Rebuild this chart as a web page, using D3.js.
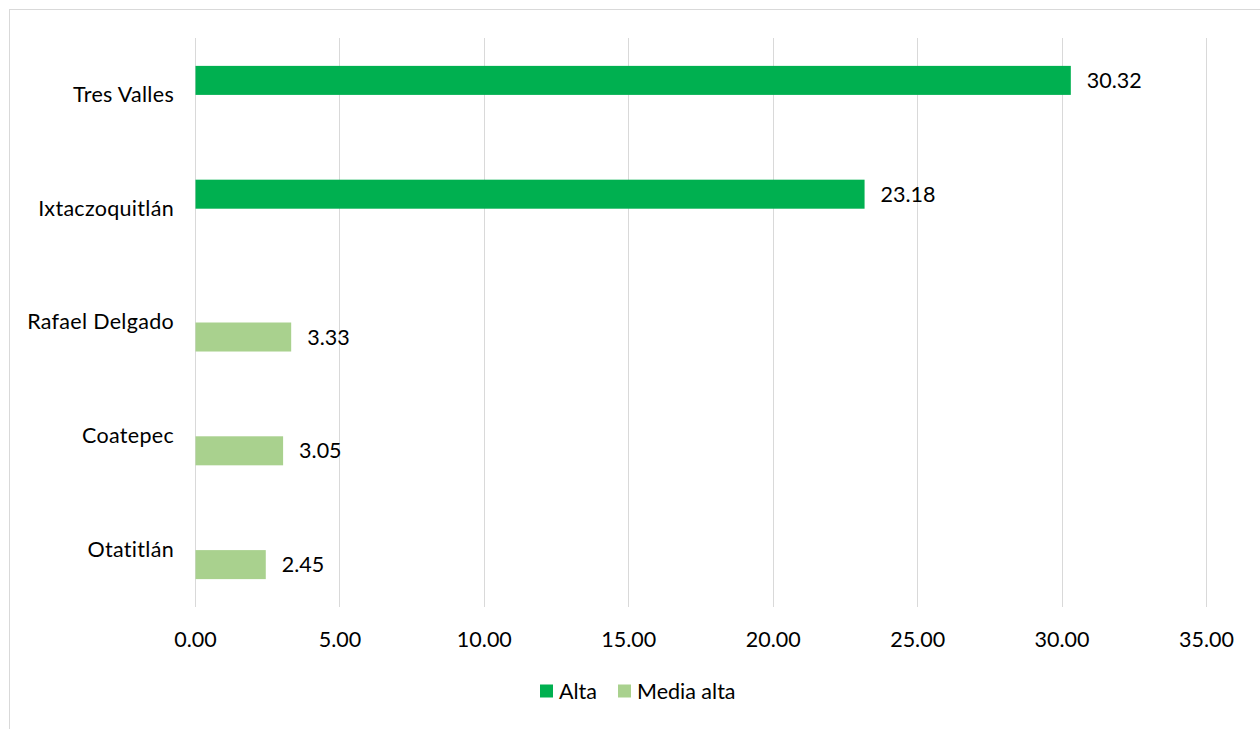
<!DOCTYPE html>
<html><head><meta charset="utf-8">
<script src="https://cdn.jsdelivr.net/npm/d3@7"></script>
<style>body{margin:0;background:#fff;} svg{display:block;} text{font-family:"Lato","Open Sans",sans-serif;fill:#000;}</style>
</head><body>
<svg id="c" width="1260" height="729"></svg>
<script>
const categories = ["Tres Valles","Ixtaczoquitlán","Rafael Delgado","Coatepec","Otatitlán"];
const seriesNames = ["Alta","Media alta"];
const alta = [30.32, 23.18, null, null, null];
const mediaAlta = [null, null, 3.33, 3.05, 2.45];
const xTicks = [0,5,10,15,20,25,30,35];
const colors = ["#00b050","#a9d18e"];
const FS = 21.5;

const svg = d3.select("#c");
svg.append("rect").attr("x",9.5).attr("y",9.5).attr("width",1300).attr("height",800)
  .attr("fill","#fff").attr("stroke","#d9d9d9").attr("stroke-width",1);

const x = d3.scaleLinear().domain([0,35]).range([195,1206]);
const y = d3.scaleBand().domain(categories).range([38,607]).paddingInner(0.49).paddingOuter(0.245);
const sub = d3.scaleBand().domain(seriesNames).range([0,y.bandwidth()]);

// gridlines
svg.append("g").selectAll("line").data(xTicks).join("line")
  .attr("x1",d=>Math.round(x(d))+0.5).attr("x2",d=>Math.round(x(d))+0.5)
  .attr("y1",38).attr("y2",607).attr("stroke","#d9d9d9").attr("stroke-width",1);

// x axis tick labels
const xAxis = d3.axisBottom(x).tickValues(xTicks).tickFormat(d3.format(".2f")).tickSize(0).tickPadding(0);
const gx = svg.append("g").attr("transform","translate(0,639)").call(xAxis);
gx.select(".domain").remove();
gx.selectAll("text").attr("font-size",FS).attr("dy","0.35em").style("font-family","Lato,'Open Sans',sans-serif").attr("fill","#000");

// y axis labels
const yAxis = d3.axisLeft(y).tickSize(0).tickPadding(21);
const gy = svg.append("g").attr("transform","translate(195,0)").call(yAxis);
gy.select(".domain").remove();
gy.selectAll("text").attr("font-size",FS).attr("letter-spacing","0.3px").style("font-family","Lato,'Open Sans',sans-serif").attr("fill","#000");

const data = [alta, mediaAlta];
data.forEach((vals,si)=>{
  const items = categories.map((c,i)=>({c, v:vals[i]})).filter(d=>d.v!=null);
  const g = svg.append("g");
  g.selectAll("rect").data(items).join("rect")
    .attr("x",x(0)+0.5).attr("y",d=>y(d.c)+sub(seriesNames[si]))
    .attr("width",d=>x(d.v)-x(0)-0.5).attr("height",sub.bandwidth())
    .attr("fill",colors[si]);
  g.selectAll("text").data(items).join("text")
    .attr("x",d=>x(d.v)+16).attr("y",d=>y(d.c)+sub(seriesNames[si])+sub.bandwidth()/2)
    .attr("dy","0.35em").attr("font-size",FS).text(d=>d3.format(".2f")(d.v));
});

// legend
const leg = svg.append("g").attr("transform","translate(540,691)");
const legItems = [{n:"Alta",x:0},{n:"Media alta",x:78}];
legItems.forEach((it,i)=>{
  leg.append("rect").attr("x",it.x).attr("y",-6.5).attr("width",13).attr("height",13).attr("fill",colors[i]);
  leg.append("text").attr("x",it.x+19).attr("y",0).attr("dy","0.35em").attr("font-size",FS).text(it.n);
});
</script>
</body></html>
